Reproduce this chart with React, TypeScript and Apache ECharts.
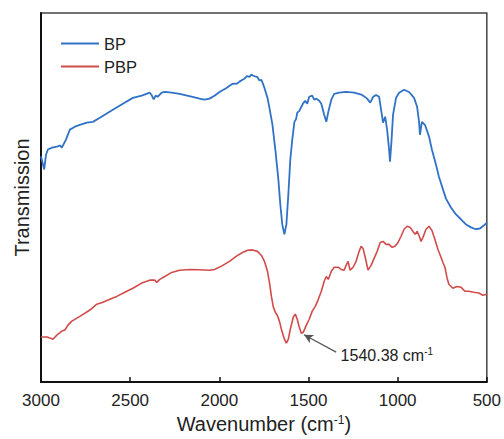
import React, { useEffect, useRef } from "react";
import * as echarts from "echarts";

// Wavenumbers (cm-1) and transmission (arbitrary units)
const bpWave = [
  3000, 2989, 2982, 2972, 2961, 2938, 2911, 2894, 2883, 2860, 2838, 2810, 2782, 2743, 2709, 2670,
  2597, 2541, 2485, 2435, 2390, 2379, 2368, 2357, 2346, 2323, 2306, 2267, 2223, 2150, 2111, 2083,
  2055, 2027, 1999, 1960, 1926, 1900, 1887, 1870, 1859, 1845, 1831, 1820, 1809, 1798, 1786, 1775,
  1764, 1747, 1730, 1719, 1702, 1686, 1669, 1658, 1647, 1635, 1624, 1613, 1602, 1591, 1579, 1570,
  1563, 1552, 1540, 1530, 1518, 1507, 1496, 1479, 1468, 1456, 1440, 1428, 1412, 1400, 1389, 1372,
  1356, 1328, 1289, 1244, 1199, 1171, 1154, 1137, 1121, 1104, 1093, 1082, 1070, 1059, 1048, 1043,
  1034, 1026, 1009, 992, 964, 936, 908, 891, 880, 875, 864, 847, 824, 808, 785, 769, 746, 729, 701,
  673, 645, 617, 589, 561, 539, 517, 500,
];
const bpTrans = [
  61.1, 59.0, 57.6, 61.6, 63.0, 63.5, 63.8, 64.1, 63.5, 65.7, 68.4, 69.2, 69.7, 70.3, 70.5, 71.6,
  73.8, 75.4, 77.0, 77.6, 78.4, 77.7, 76.6, 77.6, 77.3, 78.4, 78.6, 78.4, 78.1, 77.3, 76.8, 76.5,
  76.8, 77.6, 78.6, 79.7, 80.8, 80.9, 81.4, 81.9, 82.2, 82.9, 82.7, 83.3, 83.0, 82.8, 82.6, 81.7,
  81.9, 79.7, 77.0, 74.3, 69.7, 63.0, 54.9, 48.1, 42.7, 40.0, 42.7, 50.8, 60.3, 65.7, 70.5, 71.2,
  73.0, 73.4, 74.6, 75.5, 76.2, 75.4, 77.3, 77.6, 76.5, 76.8, 76.2, 75.4, 72.4, 70.5, 73.2, 76.5,
  78.1, 78.4, 78.6, 78.4, 77.8, 76.8, 75.7, 77.3, 77.8, 77.3, 73.8, 70.3, 71.9, 68.4, 63.0, 59.7,
  65.7, 72.4, 77.0, 78.4, 79.2, 78.6, 77.0, 74.6, 70.5, 67.0, 70.5, 69.7, 66.5, 63.0, 58.9, 55.7,
  52.2, 49.7, 47.3, 45.4, 44.1, 42.7, 41.9, 41.4, 41.6, 42.4, 43.2,
];

const pbpWave = [
  3000, 2966, 2950, 2933, 2911, 2883, 2866, 2849, 2827, 2782, 2726, 2687, 2653, 2614, 2575, 2530,
  2485, 2435, 2390, 2362, 2351, 2334, 2306, 2267, 2223, 2167, 2111, 2055, 2027, 1988, 1943, 1904,
  1870, 1842, 1814, 1786, 1764, 1747, 1730, 1719, 1708, 1697, 1686, 1675, 1663, 1652, 1635, 1624,
  1613, 1602, 1585, 1574, 1563, 1552, 1540, 1529, 1512, 1496, 1479, 1462, 1445, 1428, 1412, 1400,
  1389, 1372, 1356, 1333, 1317, 1300, 1289, 1278, 1267, 1250, 1233, 1216, 1205, 1194, 1182, 1166,
  1149, 1132, 1115, 1098, 1082, 1065, 1048, 1031, 1015, 998, 981, 964, 947, 930, 914, 902, 891, 880,
  869, 858, 841, 824, 808, 791, 774, 757, 746, 735, 724, 713, 690, 668, 645, 623, 601, 573, 545, 522,
  500,
];
const pbpTrans = [
  12.2, 12.2, 11.9, 11.6, 12.7, 13.8, 14.1, 15.4, 16.5, 17.8, 19.5, 21.1, 21.6, 22.4, 23.2, 24.3,
  25.4, 26.8, 27.6, 27.6, 27.0, 27.8, 28.6, 29.7, 30.3, 30.5, 30.4, 30.3, 30.5, 31.4, 32.7, 34.1,
  35.1, 35.7, 35.8, 35.4, 34.3, 32.7, 30.0, 27.0, 23.2, 20.3, 18.9, 18.1, 16.5, 14.3, 11.6, 10.5,
  11.6, 14.3, 17.6, 18.4, 17.0, 14.9, 13.2, 13.5, 15.4, 17.0, 19.2, 20.5, 22.4, 24.6, 27.3, 28.6,
  27.8, 30.0, 31.1, 31.1, 30.5, 30.3, 31.6, 32.7, 30.3, 31.1, 32.7, 35.4, 36.8, 36.2, 33.8, 30.3,
  31.6, 33.5, 35.4, 37.8, 38.1, 37.3, 37.3, 36.5, 36.8, 37.8, 39.5, 41.4, 42.2, 41.9, 40.8, 40.0,
  40.8, 39.7, 38.1, 39.2, 41.4, 42.2, 41.1, 38.6, 35.9, 33.8, 32.4, 31.1, 28.4, 26.5, 25.4, 25.9,
  25.7, 24.6, 24.6, 24.3, 24.1, 23.5, 23.8,
];

const seriesNames = ["BP", "PBP"];
const xTicks = [3000, 2500, 2000, 1500, 1000, 500];
const peakLabel = "1540.38";
const arrowFrom = [1345, 8.1];
const arrowTo = [1525, 12.8];
const labelAt = [1320, 7.3];

const FONT = "'Liberation Sans', Arial, sans-serif";
const BLUE = "#2f72c6";
const RED = "#d24b4b";

export default function App() {
  const ref = useRef<HTMLDivElement>(null);
  useEffect(() => {
    if (!ref.current) return;
    const chart = echarts.init(ref.current, undefined, { renderer: "svg" });
    const pair = (xs: number[], ys: number[]) => xs.map((x, i) => [x, ys[i]]);
    chart.setOption({
      animation: false,
      textStyle: { fontFamily: FONT },
      grid: {
        left: 41,
        right: 16,
        top: 13,
        bottom: 56,
        show: true,
        borderColor: "#444",
        borderWidth: 1.5,
      },
      legend: {
        orient: "vertical",
        left: 56,
        top: 30,
        icon: "rect",
        itemWidth: 38,
        itemHeight: 2,
        itemGap: 6,
        textStyle: { fontSize: 16.5, lineHeight: 16, color: "#222", fontFamily: FONT },
        data: seriesNames,
      },
      xAxis: {
        type: "value",
        inverse: true,
        min: 500,
        max: 3000,
        interval: 500,
        name: "{a|Wavenumber (cm}{s|-1}{a|)}",
        nameLocation: "middle",
        nameGap: 32,
        nameTextStyle: {
          rich: {
            a: { fontSize: 20, color: "#222", fontFamily: FONT },
            s: { fontSize: 12, color: "#222", fontFamily: FONT, verticalAlign: "top", padding: [0, 0, 8, 0] },
          },
        },
        axisLine: { show: true, lineStyle: { color: "#111", width: 2 } },
        axisTick: { show: true, inside: true, length: 5, lineStyle: { color: "#111", width: 1.5 } },
        axisLabel: {
          fontSize: 17,
          color: "#222",
          margin: 10,
          fontFamily: FONT,
          customValues: xTicks,
          formatter: (v: number) => String(v),
        },
        splitLine: { show: false },
      },
      yAxis: {
        type: "value",
        min: 0,
        max: 100,
        name: "Transmission",
        nameLocation: "middle",
        nameGap: 9,
        nameTextStyle: { fontSize: 20, color: "#222", fontFamily: FONT },
        axisLine: { show: true, lineStyle: { color: "#111", width: 2 } },
        axisTick: { show: false },
        axisLabel: { show: false },
        splitLine: { show: false },
      },
      series: [
        {
          name: seriesNames[0],
          type: "line",
          data: pair(bpWave, bpTrans),
          symbol: "none",
          lineStyle: { color: BLUE, width: 1.8 },
          itemStyle: { color: BLUE },
        },
        {
          name: seriesNames[1],
          type: "line",
          data: pair(pbpWave, pbpTrans),
          symbol: "none",
          lineStyle: { color: RED, width: 1.6 },
          itemStyle: { color: RED },
          markLine: {
            silent: true,
            symbol: ["none", "arrow"],
            symbolSize: [7, 9],
            label: { show: false },
            lineStyle: { color: "#555", width: 1.2, type: "solid" },
            data: [[{ coord: arrowFrom }, { coord: arrowTo }]],
          },
          markPoint: {
            silent: true,
            symbol: "circle",
            symbolSize: 0,
            data: [{ coord: labelAt, value: peakLabel }],
            label: {
              show: true,
              position: "right",
              distance: 0,
              formatter: "{a|" + peakLabel + " cm}{s|-1}",
              rich: {
                a: { fontSize: 16, color: "#222", fontFamily: FONT },
                s: { fontSize: 10, color: "#222", fontFamily: FONT, verticalAlign: "top", padding: [0, 0, 7, 0] },
              },
            },
          },
        },
      ],
    });
    return () => chart.dispose();
  }, []);
  return <div ref={ref} style={{ width: 504, height: 439, position: "absolute", left: 0, top: 0 }} />;
}
